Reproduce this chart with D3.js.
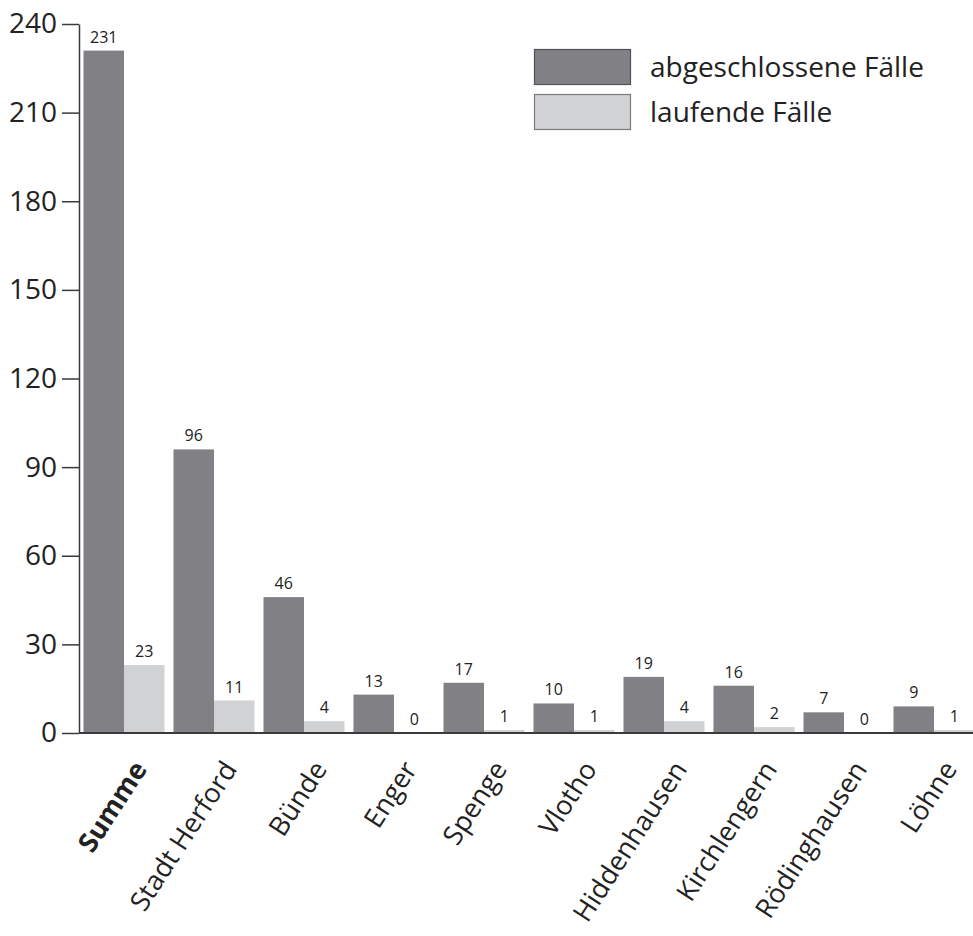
<!DOCTYPE html>
<html>
<head>
<meta charset="utf-8">
<script src="https://cdn.jsdelivr.net/npm/d3@7/dist/d3.min.js"></script>
<style>
  html, body { margin: 0; padding: 0; background: #fff; }
  svg { display: block; font-family: "Open Sans", "Noto Sans", sans-serif; }
</style>
</head>
<body>
<svg id="chart" width="973" height="936"></svg>
<script>
// Fälle je Kommune im Kreis Herford
const categories = ["Summe", "Stadt Herford", "Bünde", "Enger", "Spenge", "Vlotho",
                    "Hiddenhausen", "Kirchlengern", "Rödinghausen", "Löhne"];
const abgeschlossen = [231, 96, 46, 13, 17, 10, 19, 16, 7, 9];
const laufend = [23, 11, 4, 0, 1, 1, 4, 2, 0, 1];
const seriesNames = ["abgeschlossene Fälle", "laufende Fälle"];
const yTicks = [0, 30, 60, 90, 120, 150, 180, 210, 240];

const colors = ["#808085", "#d1d2d4"];
const legendStroke = ["#505055", "#7a7a7e"];

const svg = d3.select("#chart");
const W = 973, H = 936;
const axisX = 79, baseY = 733, topY = 24;

const x0 = d3.scaleBand().domain(categories).range([axisX, axisX + 900])
  .paddingInner(0.1).paddingOuter(0.05);
const x1 = d3.scaleBand().domain([0, 1]).range([0, x0.bandwidth()]);
const y = d3.scaleLinear().domain([0, 240]).range([baseY, topY]);

const rows = categories.map((c, i) => ({ cat: c, vals: [abgeschlossen[i], laufend[i]] }));

// Bars
const groups = svg.append("g").selectAll("g").data(rows).join("g")
  .attr("transform", d => `translate(${x0(d.cat)},0)`);

groups.selectAll("rect").data(d => d.vals.map((v, k) => ({ v, k }))).join("rect")
  .attr("x", d => x1(d.k))
  .attr("width", x1.bandwidth())
  .attr("y", d => y(d.v))
  .attr("height", d => baseY - y(d.v))
  .attr("fill", d => colors[d.k]);

// Value labels
groups.selectAll("text").data(d => d.vals.map((v, k) => ({ v, k }))).join("text")
  .attr("x", d => x1(d.k) + x1.bandwidth() / 2)
  .attr("y", d => y(d.v) - 8)
  .attr("text-anchor", "middle")
  .attr("font-size", 16)
  .attr("fill", "#222")
  .text(d => d.v);

// Baseline
svg.append("line")
  .attr("x1", axisX).attr("x2", W)
  .attr("y1", baseY).attr("y2", baseY)
  .attr("stroke", "#3a3a3a").attr("stroke-width", 2);

// Y axis
const yAxis = d3.axisLeft(y).tickValues(yTicks).tickSizeInner(17).tickSizeOuter(0).tickPadding(5);
const ga = svg.append("g").attr("transform", `translate(${axisX},0)`).call(yAxis);
ga.select(".domain").attr("stroke", "#3a3a3a").attr("stroke-width", 1.5);
ga.selectAll(".tick line").attr("stroke", "#3a3a3a").attr("stroke-width", 1.5);
ga.selectAll(".tick text")
  .attr("font-size", 28)
  .attr("font-family", "\"Open Sans\", sans-serif")
  .attr("fill", "#222");

// Category labels
svg.append("g").selectAll("text").data(categories).join("text")
  .attr("transform", d => `translate(${x0(d) + x0.bandwidth() / 2 + 16},${baseY + 31}) rotate(-57)`)
  .attr("text-anchor", "end")
  .attr("dy", "0.35em")
  .attr("font-size", 27)
  .attr("font-weight", (d, i) => i === 0 ? 700 : 400)
  .attr("fill", "#222")
  .text(d => d);

// Legend
const legend = svg.append("g").selectAll("g").data(seriesNames).join("g")
  .attr("transform", (d, i) => `translate(534,${49 + i * 45})`);
legend.append("rect")
  .attr("x", 0.5).attr("y", 0.5)
  .attr("width", 96).attr("height", 35)
  .attr("fill", (d, i) => colors[i])
  .attr("stroke", (d, i) => legendStroke[i]).attr("stroke-width", 1.2);
legend.append("text")
  .attr("x", 116).attr("y", 18).attr("dy", "0.35em")
  .attr("font-size", 28)
  .attr("fill", "#222")
  .text(d => d);
</script>
</body>
</html>
